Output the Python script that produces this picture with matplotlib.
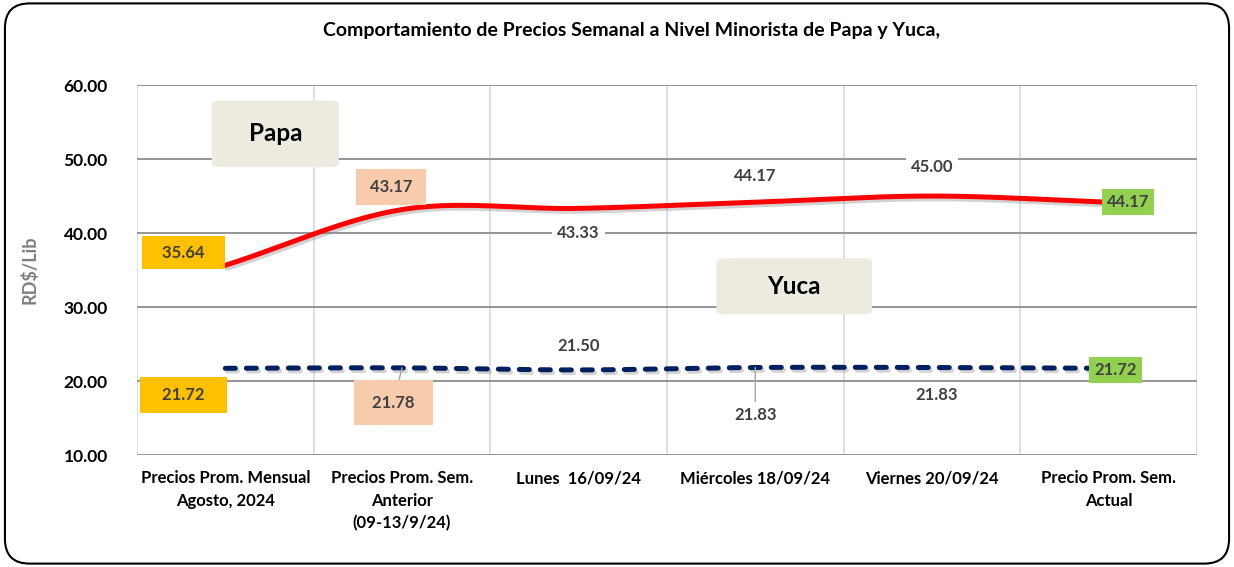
import numpy as np
import matplotlib
matplotlib.use("Agg")
import matplotlib.pyplot as plt
from matplotlib.patches import FancyBboxPatch
import matplotlib.patheffects as pe

categories = ["Precios Prom. Mensual\nAgosto, 2024",
              "Precios Prom. Sem.\nAnterior\n(09-13/9/24)",
              "Lunes  16/09/24",
              "Miércoles 18/09/24",
              "Viernes 20/09/24",
              "Precio Prom. Sem.\nActual"]
papa = [35.64, 43.17, 43.33, 44.17, 45.00, 44.17]
yuca = [21.72, 21.78, 21.50, 21.83, 21.83, 21.72]
yticks = [10, 20, 30, 40, 50, 60]
title = "Comportamiento de Precios Semanal a Nivel Minorista de Papa y Yuca,"

plt.rcParams['font.family'] = ['Lato', 'DejaVu Sans']

def smooth(xs, ys, n=40):
    xs = np.asarray(xs, float); ys = np.asarray(ys, float)
    px = np.concatenate([[2*xs[0]-xs[1]], xs, [2*xs[-1]-xs[-2]]])
    py = np.concatenate([[2*ys[0]-ys[1]], ys, [2*ys[-1]-ys[-2]]])
    ox, oy = [], []
    t = np.linspace(0, 1, n)
    for i in range(1, len(px)-2):
        p0, p1, p2, p3 = [np.array([px[j], py[j]]) for j in range(i-1, i+3)]
        for tt in (t if i == 1 else t[1:]):
            pt = 0.5*((2*p1) + (-p0+p2)*tt + (2*p0-5*p1+4*p2-p3)*tt**2 + (-p0+3*p1-3*p2+p3)*tt**3)
            ox.append(pt[0]); oy.append(pt[1])
    return np.array(ox), np.array(oy)

fig = plt.figure(figsize=(12.34, 5.67), dpi=100)
ax = fig.add_axes([0.111, 0.1975, 0.859, 0.6525])
x = np.arange(len(categories))
ax.set_xlim(-0.5, len(categories)-0.5)
ax.set_ylim(10, 60)
ax.set_yticks(yticks)
ax.set_yticklabels([f"{v:.2f}" for v in yticks], fontsize=12.5, fontweight='bold')
ax.set_xticks(x)
ax.set_xticklabels(categories, fontsize=12, fontweight='bold', va='top', linespacing=1.5)
ax.tick_params(length=0, pad=11)
ax.tick_params(axis='y', pad=21)
for xv in np.arange(-0.5, len(categories), 1.0):
    ax.axvline(xv, color='#d9d9d9', lw=1.2, zorder=0)
for yv in yticks:
    ax.axhline(yv, color='#8c8c8c', lw=1.3, zorder=0.5)
for s in ax.spines.values():
    s.set_visible(False)
ax.set_ylabel("RD$/Lib", fontsize=13, fontweight='bold', color='#7f7f7f', labelpad=18)

shadow = [pe.SimpleLineShadow(offset=(1.5, -2), shadow_color='gray', alpha=0.35), pe.Normal()]
sx, sy = smooth(x, papa)
ax.plot(sx, sy, color='#ff0000', lw=3.6, solid_capstyle='round', zorder=3, path_effects=shadow)
sx2, sy2 = smooth(x, yuca)
ax.plot(sx2, sy2, color='#002060', lw=3.6, dashes=(2.0, 2.2), dash_capstyle='round', zorder=3,
        path_effects=shadow)

gold, peach, green = '#ffc000', '#f8cbad', '#92d050'
txtc = '#404040'
papa_style = [
    (gold, (-30, 9), "   {}   ", 0.5),
    (peach, (-8, 16), " {} ", 0.6),
    ('white', (0, -18), "{}", 0.3),
    ('white', (0, 19), "{}", 0.3),
    ('white', (0, 21), "{}", 0.3),
    (green, (14, 0), "{}", 0.3),
]
yuca_style = [
    (gold, (-30, -19), "   {}   ", 0.6),
    (peach, (-6, -25), " {} ", 0.85),
    ('white', (0, 17), "{}", 0.3),
    ('white', (0, -34), "{}", 0.3),
    ('white', (3, -20), "{}", 0.3),
    (green, (5, -1), "{}", 0.3),
]
leaders = {1: True, 3: True}
for vals, styles, series in ((papa, papa_style, 'p'), (yuca, yuca_style, 'y')):
    for i, (v, (fc, off, fmt, pad)) in enumerate(zip(vals, styles)):
        arrow = None
        if series == 'y' and i in leaders:
            arrow = dict(arrowstyle='-', color='#a6a6a6', lw=1, shrinkA=0, shrinkB=0)
        ax.annotate(fmt.format(f"{v:.2f}"), (x[i], v), xytext=off, textcoords='offset points',
                    ha='center', va='center', fontsize=12, fontweight='bold', color=txtc,
                    bbox=dict(boxstyle=f"square,pad={pad}", fc=fc, ec='none'),
                    arrowprops=arrow, zorder=5)

# series name boxes
for name, (cx, cy), (w, h) in (("Papa", (0.283, 53.4), (0.72, 9.0)),
                               ("Yuca", (3.22, 32.8), (0.88, 7.6))):
    box = FancyBboxPatch((cx - w/2, cy - h/2), w, h,
                         boxstyle="round,pad=0,rounding_size=0.06", mutation_aspect=8,
                         fc='#edebe0', ec='none', zorder=4)
    ax.add_patch(box)
    ax.text(cx, cy, name, ha='center', va='center', fontsize=17.5, fontweight='bold',
            color='black', zorder=5)

fig.text(0.512, 0.947, title, ha='center', va='center', fontsize=14, fontweight='bold')

border = FancyBboxPatch((0.004, 0.006), 0.992, 0.988, boxstyle="round,pad=0,rounding_size=0.02",
                        transform=fig.transFigure, fc='none', ec='black', lw=1.5,
                        mutation_aspect=2.18)
fig.patches.append(border)

fig.savefig("out.png", dpi=100)
